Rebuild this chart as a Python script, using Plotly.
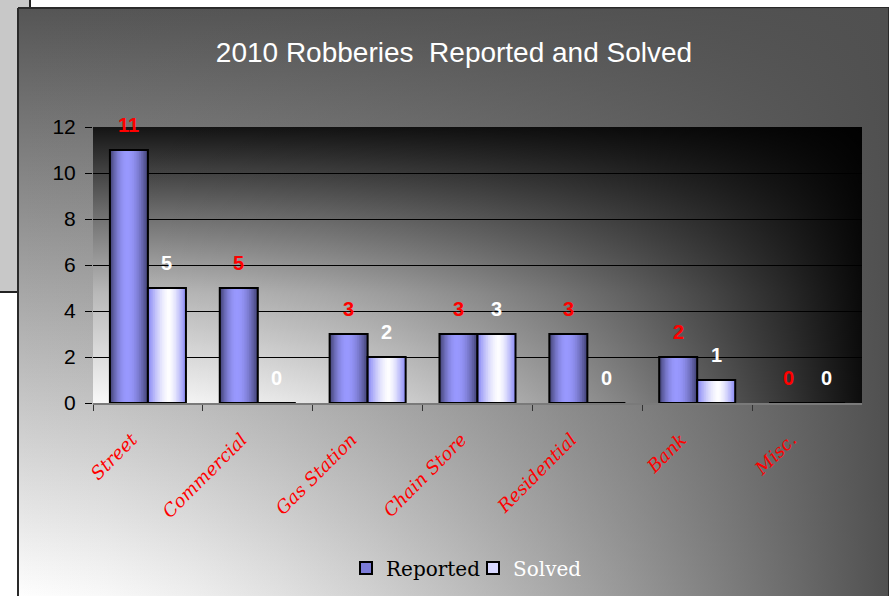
import plotly.graph_objects as go

# ---------------- data ----------------
categories = ["Street", "Commercial", "Gas Station", "Chain Store", "Residential", "Bank", "Misc."]
reported = [11, 5, 3, 3, 3, 2, 0]
solved = [5, 0, 2, 3, 0, 1, 0]
y_ticks = [0, 2, 4, 6, 8, 10, 12]
title_text = "2010 Robberies  Reported and Solved"
series_names = ["Reported", "Solved"]

# ---------------- layout constants (pixels) ----------------
W, H = 896, 596
CHART = (18, 888, 8, 600)      # x0, x1, y0, y1 of chart frame
PLOT = (93, 862, 127, 403)     # plot area
BAR_W = 0.346                  # bar width in category units
N_LAYERS = 12

fig = go.Figure()


def rect(x0, x1, y0, y1, grad, line=None):
    return go.Scatter(
        x=[x0, x1, x1, x0, x0], y=[y0, y0, y1, y1, y0],
        mode="lines", fill="toself", fillgradient=grad,
        line=line or dict(width=0, color="rgba(0,0,0,0)"),
        hoverinfo="skip", showlegend=False, xaxis="x", yaxis="y",
    )


def alpha_scale(rgb, power, amax):
    stops = []
    for i in range(11):
        t = i / 10
        a = amax * t ** power
        stops.append([t, f"rgba({rgb},{a:.3f})"])
    return stops


cx0, cx1, cy0, cy1 = CHART
fig.add_trace(rect(cx0, cx1, cy0, cy1,
                   dict(type="vertical", start=cy0, stop=cy1,
                        colorscale=[[0, "#555555"], [1, "#ffffff"]]),
                   line=dict(color="#2a2a2a", width=2)))
fig.add_trace(rect(cx0, cx1, cy0, cy1,
                   dict(type="horizontal", start=cx0, stop=cx1,
                        colorscale=alpha_scale("80,80,80", 1.5, 1.0))))

px0, px1, py0, py1 = PLOT
fig.add_trace(rect(px0, px1, py0, py1,
                   dict(type="vertical", start=py0, stop=py1,
                        colorscale=[[0, "#141414"], [0.3, "#6a6a6a"], [0.6, "#b8b8b8"], [1, "#f8f8f8"]])))
fig.add_trace(rect(px0, px1, py0, py1,
                   dict(type="horizontal", start=px0, stop=px1,
                        colorscale=alpha_scale("0,0,0", 1.9, 0.95))))


# ---------------- bars with faux horizontal gradient ----------------
def hexcol(c):
    return "#%02x%02x%02x" % tuple(int(round(v)) for v in c)


series_styles = [
    # edge colour, peak colour, peak position, profile exponent, base offset, legend, legend colour
    ((68, 68, 120), (153, 153, 255), 0.45, 2.0, -BAR_W, "legend", "#7c7cd8"),
    ((140, 140, 245), (255, 255, 255), 0.55, 1.6, 0.0, "legend2", "#d8d8ff"),
]

for values, name, style in zip([reported, solved], series_names, series_styles):
    edge, peak, cpos, pw, base_off, legend_id, legend_col = style
    for k in range(N_LAYERS):
        d = 1 - k / N_LAYERS
        left = cpos - d * cpos
        right = cpos + d * (1 - cpos)
        f = 1 - d ** pw
        col = hexcol([e + (p - e) * f for e, p in zip(edge, peak)])
        w = BAR_W * (right - left)
        off = base_off + BAR_W * left
        fig.add_trace(go.Bar(
            x=categories, y=values, name=name,
            width=[w] * len(categories), offset=[off] * len(categories),
            marker=dict(color=col, line=dict(width=0)),
            showlegend=False, hoverinfo="skip", xaxis="x2", yaxis="y2",
        ))
    # outline on top
    fig.add_trace(go.Bar(
        x=categories, y=values, name=name,
        width=[BAR_W] * len(categories), offset=[base_off] * len(categories),
        marker=dict(color="rgba(0,0,0,0)", line=dict(color="black", width=2)),
        showlegend=False, xaxis="x2", yaxis="y2",
    ))
    # legend entry
    fig.add_trace(go.Bar(
        x=[categories[0]], y=[None], name=name,
        marker=dict(color=legend_col, line=dict(color="black", width=2)),
        showlegend=True, legend=legend_id, xaxis="x2", yaxis="y2", hoverinfo="skip",
    ))

# ---------------- value labels ----------------
annotations = []
for values, color, shift in [(reported, "#ff0000", -19), (solved, "#ffffff", 19)]:
    for c, v in zip(categories, values):
        annotations.append(dict(
            x=c, y=v, xref="x2", yref="y2", text=str(v), showarrow=False,
            xshift=shift, yshift=25, yanchor="middle",
            font=dict(family="Liberation Sans", size=20, color=color, weight="bold"),
        ))

# ---------------- shapes (grey panel behind chart) ----------------
shapes = [dict(type="rect", xref="x", yref="y", x0=-5, x1=30, y0=-5, y1=292,
               fillcolor="#c8c8c8", line=dict(color="#222222", width=2), layer="below")]

fig.update_layout(
    width=W, height=H, margin=dict(l=0, r=0, t=0, b=0, autoexpand=False),
    paper_bgcolor="white", plot_bgcolor="rgba(0,0,0,0)",
    barmode="overlay",
    title=dict(text=title_text, x=454 / W, y=1 - 52 / H, xanchor="center", yanchor="middle",
               font=dict(family="Liberation Sans", size=28, color="white")),
    xaxis=dict(domain=[0, 1], range=[0, W], visible=False, fixedrange=True, automargin=False),
    yaxis=dict(domain=[0, 1], range=[H, 0], visible=False, fixedrange=True, automargin=False),
    xaxis2=dict(domain=[px0 / W, px1 / W], anchor="y2", type="category",
                categoryorder="array", categoryarray=categories,
                range=[-0.5, len(categories) - 0.5], automargin=False,
                showline=True, linecolor="#7a7a7a", linewidth=2,
                ticks="outside", tickson="boundaries", ticklen=6, tickcolor="#333333", tickwidth=1,
                tickangle=-45, showgrid=False, ticklabelshift=-16, ticklabelstandoff=17,
                tickfont=dict(family="DejaVu Serif", size=18, color="#ff0000", style="italic")),
    yaxis2=dict(domain=[1 - py1 / H, 1 - py0 / H], anchor="x2", range=[0, 12], automargin=False,
                tickvals=y_ticks, ticks="outside", ticklen=7, tickcolor="black",
                showgrid=True, gridcolor="black", gridwidth=1, zeroline=False,
                showline=False, ticklabelstandoff=5,
                tickfont=dict(family="Liberation Sans", size=21, color="black")),
    legend=dict(x=(386 - 40) / W, y=28 / H, xanchor="left", yanchor="middle",
                orientation="h", bgcolor="rgba(0,0,0,0)",
                font=dict(family="DejaVu Serif", size=20, color="black")),
    legend2=dict(x=(513 - 40) / W, y=28 / H, xanchor="left", yanchor="middle",
                 orientation="h", bgcolor="rgba(0,0,0,0)",
                 font=dict(family="DejaVu Serif", size=20, color="white")),
    annotations=annotations,
    shapes=shapes,
    showlegend=True,
)

fig.write_html("out.html", config={"displayModeBar": False},
               post_script="document.body.style.margin='0';document.body.style.overflow='hidden';")
